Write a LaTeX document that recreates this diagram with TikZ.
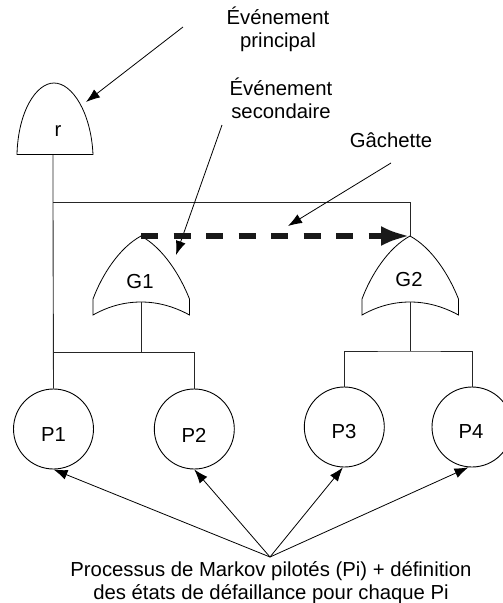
\documentclass[tikz,border=0pt]{standalone}
\usepackage{fontspec}
\setmainfont{Liberation Sans}
\usetikzlibrary{arrows.meta}
\tikzset{
  wire/.style={draw=black!85,line width=0.9pt},
  ptr/.style={draw=black,line width=0.8pt,-{Latex[length=14pt,width=10pt]}},
  trigger/.style={draw=black!90,line width=6.7pt,dash pattern=on 17pt off 15.5pt,-{Latex[length=29pt,width=20pt]}},
  proc/.style={circle,draw=black,line width=0.9pt,minimum size=80pt,inner sep=0pt},
  lbl/.style={inner sep=0pt,font=\fontsize{20.3}{23}\selectfont,align=center},
  gatepath/.style={draw=black,line width=0.8pt,line join=miter}
}
\begin{document}
\begin{tikzpicture}[x=1pt,y=-1pt]
\useasboundingbox (0,0) rectangle (503,603);
% junction coordinates
\coordinate (rb) at (53,155);
\coordinate (rtip) at (86,102);
\coordinate (g1top) at (141,236);
\coordinate (g1bot) at (141,302);
\coordinate (g2top) at (410,236);
\coordinate (g2bot) at (410,302);
\coordinate (j1) at (141,352.5);
\coordinate (j2) at (410,351);
\coordinate (busl) at (53,202);
\coordinate (busr) at (410,202);
\coordinate (src) at (270,557);
\coordinate (s1) at (183,27);
\coordinate (s2) at (222,125);
\coordinate (s2e) at (176,255);
\coordinate (s3) at (391,163);
\coordinate (s3e) at (288,226);
% gates
\draw[gatepath] (17,154.5) .. controls (18,112) and (36,83) .. (54,83) .. controls (72,83) and (91,112) .. (93,154.5) -- cycle;
\foreach \dx in {0,-269}{
\draw[gatepath,xshift=\dx pt] (410,236) .. controls (388,248) and (371,275) .. (362,299) -- (362,315)
  .. controls (378,306) and (394,302) .. (410,302) .. controls (426,302) and (442,306) .. (458.5,315) -- (458.5,299)
  .. controls (449,275) and (432,248) .. (410,236) -- cycle;
}
% processes
\node[proc] (P1) at (53.5,429) {};
\node[proc] (P2) at (194.3,429) {};
\node[proc] (P3) at (344.3,427) {};
\node[proc] (P4) at (472,427) {};
% labels
\node[lbl] (tr) at (58,131) {r};
\node[lbl] (tg1) at (140,282) {G1};
\node[lbl] (tg2) at (409,280) {G2};
\node[lbl] (tp1) at (53.5,435) {P1};
\node[lbl] (tp2) at (194,435) {P2};
\node[lbl] (tp3) at (344,432) {P3};
\node[lbl] (tp4) at (471,432) {P4};
\node[lbl] (tmain) at (278,29.5) {Événement\\principal};
\node[lbl] (tsec) at (281,98.5) {Événement\\secondaire};
\node[lbl] (tgach) at (391,140) {Gâchette};
\node[lbl] (tbot) at (271,582.5) {Processus de Markov pilotés (Pi) + définition\\des états de défaillance pour chaque Pi};
% wires
\draw[wire] (rb) -- (busl) -- (P1.north);
\draw[wire] (busl) -- (busr) -- (g2top);
\draw[wire] (g1bot) -- (j1);
\draw[wire] (g2bot) -- (j2);
\draw[wire] (P1.north |- j1) -- (j1) -- (j1 -| P2.north) -- (P2.north);
\draw[wire] (P3.north) -- (P3.north |- j2) -- (j2) -- (j2 -| P4.north) -- (P4.north);
% pointers
\draw[ptr] (s1) -- (rtip);
\draw[ptr] (s2) -- (s2e);
\draw[ptr] (s3) -- (s3e);
\draw[trigger] (g1top) -- (g2top);
\draw[ptr] (src) -- (P1.270);
\draw[ptr] (src) -- (P2.270);
\draw[ptr] (src) -- (P3.268);
\draw[ptr] (src) -- (P4.265);
\end{tikzpicture}
\end{document}
